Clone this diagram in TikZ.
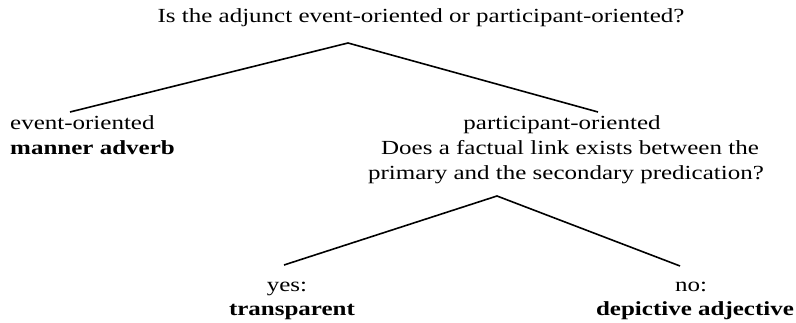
\documentclass[tikz,border=0pt]{standalone}
\usepackage{fontspec}
\setmainfont[FakeStretch=1.25]{Liberation Serif}
\begin{document}
\begin{tikzpicture}[x=1pt,y=-1pt,
  txt/.style={inner sep=0pt,anchor=base,font=\fontsize{20}{24}\selectfont},
  lnk/.style={line width=1.6pt,line join=miter}]
\useasboundingbox[fill=white] (0,0) rectangle (796,323);
\node[txt] (q1) at (421,23) {Is the adjunct event-oriented or participant-oriented?};
\coordinate (a1) at (348,43);
\coordinate (e1) at (70,112);
\coordinate (e2) at (598,112);
\node[txt,anchor=base west] (ev) at (10,130) {event-oriented};
\node[txt,anchor=base west] (ma) at (10,155) {\textbf{manner adverb}};
\node[txt] (po) at (562,130) {participant-oriented};
\node[txt] (q2) at (570,155) {Does a factual link exists between the};
\node[txt] (q3) at (566,180) {primary and the secondary predication?};
\coordinate (a2) at (497,196);
\coordinate (e3) at (284,265);
\coordinate (e4) at (680,266);
\node[txt] (yes) at (287,292) {yes:};
\node[txt] (tr) at (292,316) {\textbf{transparent}};
\node[txt] (no) at (691,292) {no:};
\node[txt] (da) at (695,316) {\textbf{depictive adjective}};
\draw[lnk] (e1) -- (a1) -- (e2);
\draw[lnk] (e3) -- (a2) -- (e4);
\end{tikzpicture}
\end{document}
